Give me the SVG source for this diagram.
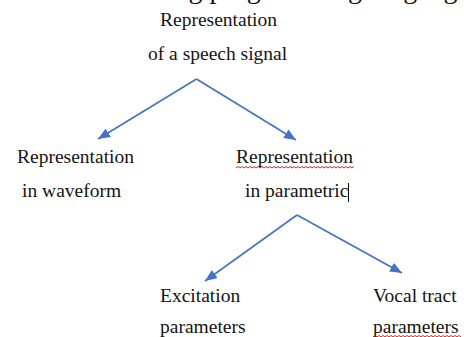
<svg xmlns="http://www.w3.org/2000/svg" width="464" height="337" viewBox="0 0 464 337">
<style>
text{font-family:'Liberation Serif','DejaVu Serif','Times New Roman',Times,serif;font-size:19.5px;fill:#141414}
.c{stroke:#4472C4;stroke-width:1.6;fill:none}
.sq{stroke:#e02020;stroke-width:1;fill:none}
</style>
<defs>
<marker id="ah" viewBox="0 0 12 10" refX="12" refY="5" markerWidth="12" markerHeight="10" markerUnits="userSpaceOnUse" orient="auto">
<path d="M0,0 L12,5 L0,10 z" fill="#4472C4"/>
</marker>
</defs>
<rect width="464" height="337" fill="#fff"/>
<text x="470" y="-2" text-anchor="end" style="font-size:28px" font-family="Liberation Serif, serif">simulated using programming language</text>
<g id="root" font-family="Liberation Serif, serif">
<text x="160" y="26">Representation</text>
<text x="148" y="60">of a speech signal</text>
</g>
<g id="waveform" font-family="Liberation Serif, serif">
<text x="17" y="163">Representation</text>
<text x="22" y="197">in waveform</text>
</g>
<g id="parametric" font-family="Liberation Serif, serif">
<text x="236" y="163">Representation</text>
<path class="sq" d="M236,168 l2,-1.5 l2,1.5 l2,-1.5 l2,1.5 l2,-1.5 l2,1.5 l2,-1.5 l2,1.5 l2,-1.5 l2,1.5 l2,-1.5 l2,1.5 l2,-1.5 l2,1.5 l2,-1.5 l2,1.5 l2,-1.5 l2,1.5 l2,-1.5 l2,1.5 l2,-1.5 l2,1.5 l2,-1.5 l2,1.5 l2,-1.5 l2,1.5 l2,-1.5 l2,1.5 l2,-1.5 l2,1.5 l2,-1.5 l2,1.5 l2,-1.5 l2,1.5 l2,-1.5 l2,1.5 l2,-1.5 l2,1.5 l2,-1.5 l2,1.5 l2,-1.5 l2,1.5 l2,-1.5 l2,1.5 l2,-1.5 l2,1.5 l2,-1.5 l2,1.5 l2,-1.5 l2,1.5 l2,-1.5 l2,1.5 l2,-1.5 l2,1.5 l2,-1.5 l2,1.5 l2,-1.5 l2,1.5 l2,-1.5"/>
<text x="245" y="197">in parametric</text>
<line x1="348.5" y1="183" x2="348.5" y2="202" stroke="#000" stroke-width="1"/>
</g>
<g id="excitation" font-family="Liberation Serif, serif">
<text x="160" y="302">Excitation</text>
<text x="160" y="333">parameters</text>
</g>
<g id="vocal" font-family="Liberation Serif, serif">
<text x="373" y="302">Vocal tract</text>
<text x="373" y="333">parameters</text>
<path class="sq" d="M373,337 l2,-1.5 l2,1.5 l2,-1.5 l2,1.5 l2,-1.5 l2,1.5 l2,-1.5 l2,1.5 l2,-1.5 l2,1.5 l2,-1.5 l2,1.5 l2,-1.5 l2,1.5 l2,-1.5 l2,1.5 l2,-1.5 l2,1.5 l2,-1.5 l2,1.5 l2,-1.5 l2,1.5 l2,-1.5 l2,1.5 l2,-1.5 l2,1.5 l2,-1.5 l2,1.5 l2,-1.5 l2,1.5 l2,-1.5 l2,1.5 l2,-1.5 l2,1.5 l2,-1.5 l2,1.5 l2,-1.5 l2,1.5 l2,-1.5 l2,1.5 l2,-1.5 l2,1.5 l2,-1.5 l2,1.5"/>
</g>
<g id="connectors">
<line class="c" x1="196.5" y1="79" x2="98" y2="139" marker-end="url(#ah)"/>
<line class="c" x1="196.5" y1="79" x2="296" y2="140" marker-end="url(#ah)"/>
<line class="c" x1="297" y1="215" x2="205" y2="281" marker-end="url(#ah)"/>
<line class="c" x1="297" y1="215" x2="402" y2="273" marker-end="url(#ah)"/>
</g>
</svg>
